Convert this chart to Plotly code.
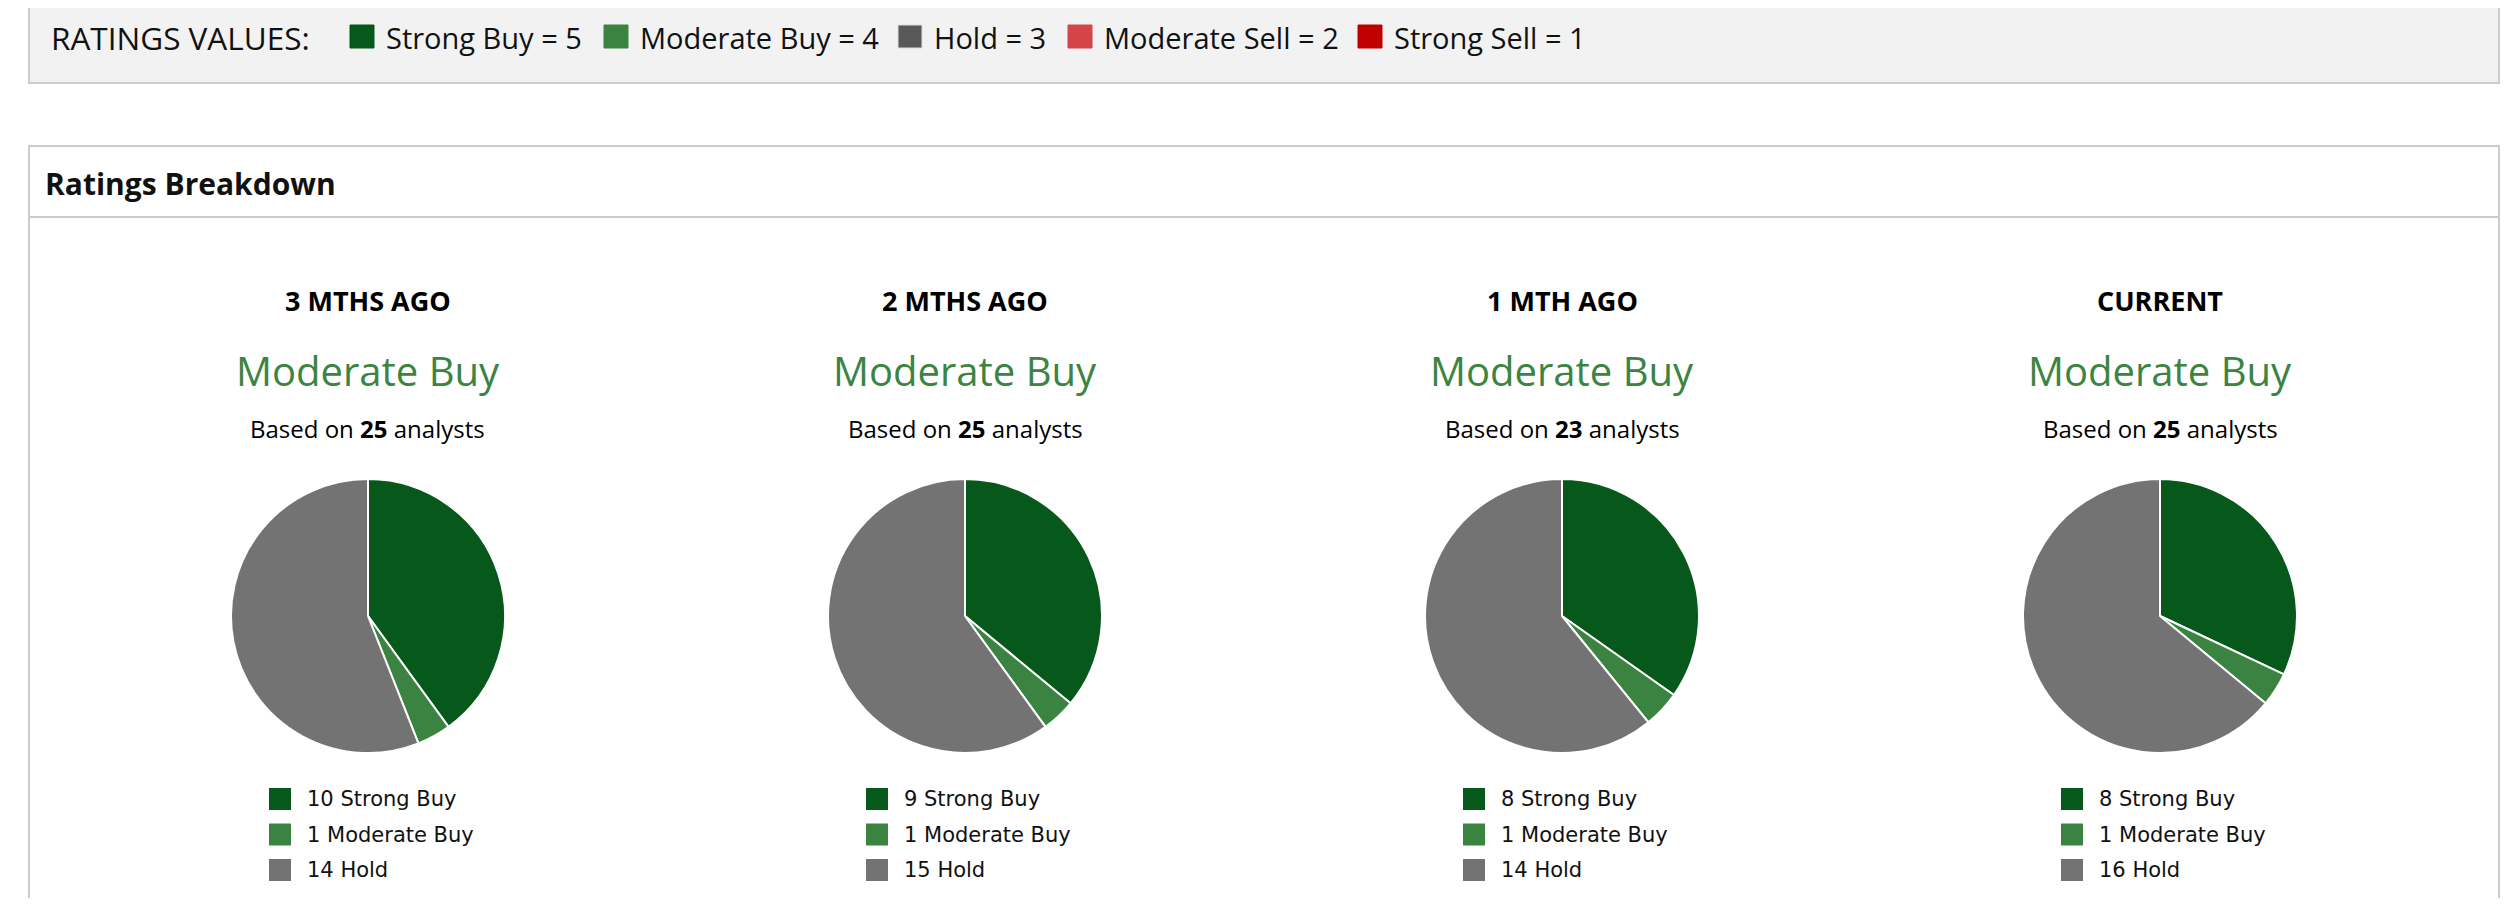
import plotly.graph_objects as go

# dados
rating_names = ["Strong Buy", "Moderate Buy", "Hold", "Moderate Sell", "Strong Sell"]
rating_values = [5, 4, 3, 2, 1]
rating_colors = ["#07581b", "#3a8341", "#595959", "#d54448", "#c00000"]

periods = ["3 MTHS AGO", "2 MTHS AGO", "1 MTH AGO", "CURRENT"]
consensus = ["Moderate Buy", "Moderate Buy", "Moderate Buy", "Moderate Buy"]
analysts = [25, 25, 23, 25]
slice_labels = ["Strong Buy", "Moderate Buy", "Hold"]
strong_buy = [10, 9, 8, 8]
moderate_buy = [1, 1, 1, 1]
hold = [14, 15, 14, 16]
slice_colors = ["#07581b", "#3a8341", "#737373"]

# layout em pixels da pagina (body tem margem de 8px)
W, H, OFF = 2496, 890, 8
col_x = [368, 965, 1562, 2160]
top_legend_x = [350, 604, 898, 1068, 1358]
R = 137


def px(x):
    return (x - OFF) / W


def py(y):
    return 1 - (y - OFF) / H


def texto(x, y, s, size, color="#111", family="Open Sans", anchor="center"):
    return dict(x=px(x), y=py(y), xref="paper", yref="paper", text=s, showarrow=False,
                xanchor=anchor, yanchor="middle", font=dict(size=size, color=color, family=family))


fig = go.Figure()
shapes = []
annotations = []

# caixa superior
shapes.append(dict(type="rect", xref="paper", yref="paper", x0=px(29), x1=px(2499), y0=py(83), y1=py(-20),
                   fillcolor="#f2f2f2", line=dict(color="#cccccc", width=2), layer="below"))
annotations.append(texto(49, 37, "RATINGS VALUES:", 31.5, anchor="left"))
for i, nome in enumerate(rating_names):
    x0 = top_legend_x[i]
    shapes.append(dict(type="rect", xref="paper", yref="paper", x0=px(x0), x1=px(x0 + 24), y0=py(48), y1=py(25),
                       fillcolor=rating_colors[i],
                       line=dict(color="#dddddd" if nome == "Hold" else rating_colors[i], width=1)))
    annotations.append(texto(x0 + 34, 37, f"{nome} = {rating_values[i]}", 29, anchor="left"))

# caixa Ratings Breakdown
shapes.append(dict(type="rect", xref="paper", yref="paper", x0=px(29), x1=px(2499), y0=py(960), y1=py(146),
                   fillcolor="white", line=dict(color="#cccccc", width=2), layer="below"))
shapes.append(dict(type="line", xref="paper", yref="paper", x0=px(29), x1=px(2499), y0=py(217), y1=py(217),
                   line=dict(color="#cccccc", width=2)))
annotations.append(texto(43, 183, "<b>Ratings Breakdown</b>", 30, anchor="left"))

for i, cx in enumerate(col_x):
    valores = [strong_buy[i], moderate_buy[i], hold[i]]
    fig.add_trace(go.Pie(labels=slice_labels, values=valores, sort=False, direction="clockwise",
                         rotation=0, textinfo="none", hoverinfo="label+value", showlegend=False,
                         marker=dict(colors=slice_colors, line=dict(color="white", width=2)),
                         domain=dict(x=[px(cx - R), px(cx + R)], y=[py(616 + R), py(616 - R)])))

    annotations.append(texto(cx, 300, f"<b>{periods[i]}</b>", 27, color="#000"))
    annotations.append(texto(cx, 370, consensus[i], 40, color="#3b8441"))
    annotations.append(texto(cx, 428, f"Based on <b>{analysts[i]}</b> analysts", 24, color="#000"))

    for j, (lab, v) in enumerate(zip(slice_labels, valores)):
        yc = 799 + j * 35.5
        shapes.append(dict(type="rect", xref="paper", yref="paper", x0=px(cx - 99), x1=px(cx - 77),
                           y0=py(yc + 11), y1=py(yc - 11), fillcolor=slice_colors[j], line=dict(width=0)))
        annotations.append(texto(cx - 63, yc, f"{v} {lab}", 21, color="#111", family="DejaVu Sans", anchor="left"))

fig.update_layout(width=W, height=H, margin=dict(l=0, r=0, t=0, b=0),
                  paper_bgcolor="white", plot_bgcolor="white",
                  shapes=shapes, annotations=annotations)

fig.write_html("out.html")
